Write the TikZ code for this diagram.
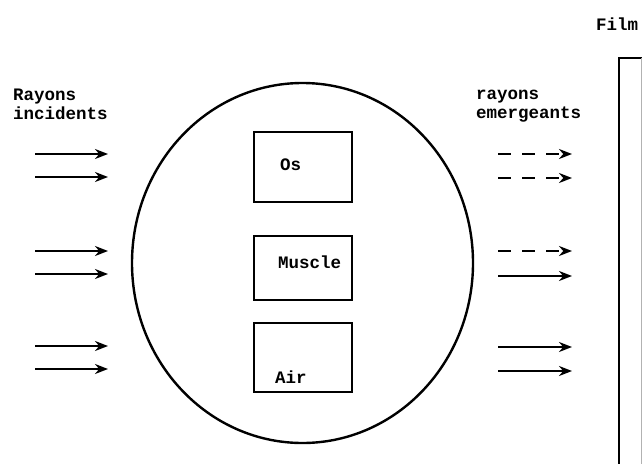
\documentclass[tikz,border=0pt]{standalone}
\usepackage{fontspec}
\setmonofont{Liberation Mono}
\usetikzlibrary{arrows.meta,positioning,shapes.geometric}
\tikzset{ray/.style={line width=2.4pt,-{Stealth[length=13pt,width=10pt]}}}
\tikzset{weakray/.style={ray,dash pattern=on 13pt off 11pt}}
\tikzset{tissue/.style={draw,line width=1.8pt,minimum width=98pt}}
\tikzset{txt/.style={font=\ttfamily\bfseries\fontsize{17.5}{21}\selectfont,inner sep=0pt,anchor=base west}}

\begin{document}
\begin{tikzpicture}[x=1pt,y=-1pt]
                        \useasboundingbox (0,0) rectangle (642,463);
                        % patient
                        \node [ellipse,draw,line width=2.4pt,minimum width=341pt,minimum height=360pt,inner sep=0pt] (body) at (302.5,263) {};
                        \node [tissue,minimum height=70pt] (os) at (303,167) {};
                        \node [tissue,minimum height=64pt] (muscle) at (303,268) {};
                        \node [tissue,minimum height=69pt] (air) at (303,357.5) {};
                        \node [txt] (oslbl) at (280,170) {Os};
                        \node [txt] (musclelbl) at (278,268) {Muscle};
                        \node [txt] (airlbl) at (275,383) {Air};
                        % film
                        \draw [line width=2.4pt] (619,475) -- (619,58) -- (642,58);
                        \draw [gray!60,line width=0.6pt] (641,58) -- (641,475);
                        \node [txt] (filmlbl) at (596,30) {Film};
                        % labels
                        \node [txt] (inlbl) at (13,100) {Rayons};
                        \node [txt] (inlbl2) at (13,119) {incidents};
                        \node [txt] (outlbl) at (476,99) {rayons};
                        \node [txt] (outlbl2) at (476,118) {emergeants};
                        % rays
                        \foreach \k/\y in {1/154,2/177,3/251,4/274,5/346,6/369} {
                            \coordinate (in\k) at (35,\y);
                            \coordinate (hit\k) at (108,\y);
                            \draw [ray] (in\k) -- (hit\k);
                        }
                        \foreach \k/\y/\s in {1/154/weakray,2/178/weakray,3/251/weakray,4/276/ray,5/347/ray,6/371/ray} {
                            \coordinate (out\k) at (498,\y);
                            \coordinate (film\k) at (572,\y);
                            \draw [\s] (out\k) -- (film\k);
                        }
                    \end{tikzpicture}
\end{document}
